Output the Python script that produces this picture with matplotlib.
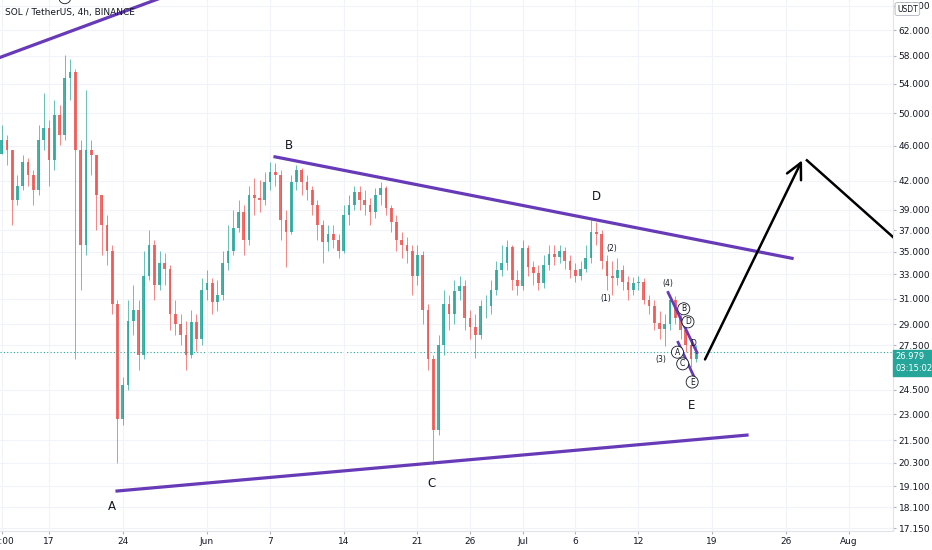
import matplotlib.pyplot as plt
import numpy as np
from matplotlib.ticker import FixedLocator, NullLocator
from matplotlib import transforms

# 12h candles, time in days counted from 1 May (00:00)
first_time = 11.5
candle_step = 0.5
first_open = 45.0

close = [46.7, 45.5, 40.0, 41.5, 44.1, 42.6, 41.0, 46.7, 48.1, 44.3,
         49.8, 47.3, 54.8, 55.6, 45.5, 35.6, 45.5, 44.9, 40.5, 37.5,
         35.1, 30.6, 22.7, 24.8, 29.3, 30.1, 26.8, 32.9, 35.6, 32.1,
         34.0, 33.5, 29.8, 29.0, 28.2, 26.8, 29.2, 27.9, 31.7, 32.3,
         30.7, 31.3, 34.0, 35.1, 37.2, 38.8, 36.1, 40.5, 40.2, 40.0,
         41.9, 43.0, 42.6, 38.0, 36.8, 41.9, 43.2, 41.9, 41.0, 39.5,
         37.5, 35.9, 36.6, 36.1, 35.1, 38.5, 39.5, 40.8, 40.0, 39.5,
         38.8, 40.5, 41.2, 39.2, 37.8, 36.1, 35.6, 35.1, 32.9, 34.7,
         30.1, 26.5, 22.1, 27.5, 30.6, 29.8, 31.6, 32.0, 29.5, 28.8,
         28.2, 30.4, 30.4, 31.7, 33.4, 34.0, 35.4, 32.5, 32.0, 35.3,
         33.6, 33.1, 32.3, 33.8, 34.8, 34.5, 35.1, 34.2, 33.4, 32.9,
         33.5, 34.4, 36.8, 36.6, 34.2, 32.9, 32.7, 33.4, 32.4, 31.7,
         32.3, 32.4, 30.9, 30.4, 29.1, 28.7, 29.0, 30.9, 29.5, 28.6,
         27.5, 26.5, 26.979]
high = [48.5, 47.3, 45.5, 42.6, 44.9, 44.6, 43.2, 48.5, 52.7, 49.1,
        51.8, 51.1, 58.1, 57.6, 56.1, 46.7, 53.1, 46.7, 44.9, 40.5,
        38.5, 35.6, 30.9, 25.3, 30.9, 32.1, 30.9, 35.1, 37.0, 36.1,
        35.1, 34.9, 33.8, 30.9, 29.8, 29.3, 30.1, 29.8, 32.7, 33.4,
        32.7, 32.5, 35.1, 37.5, 39.0, 40.0, 39.5, 41.5, 42.3, 42.1,
        43.0, 44.1, 44.0, 43.2, 39.0, 42.6, 43.8, 43.4, 42.6, 41.5,
        40.0, 38.0, 37.5, 37.5, 36.6, 39.5, 40.5, 41.5, 41.5, 41.0,
        40.2, 41.2, 41.9, 41.5, 39.5, 38.5, 36.8, 36.3, 35.6, 35.6,
        35.1, 30.6, 26.8, 28.2, 31.7, 31.3, 32.5, 32.9, 32.5, 30.1,
        29.8, 30.9, 31.3, 32.5, 34.2, 35.6, 36.1, 35.6, 33.4, 36.1,
        35.6, 34.2, 33.8, 34.7, 35.6, 35.6, 35.6, 35.4, 34.7, 34.0,
        34.2, 35.6, 38.0, 37.8, 37.0, 34.7, 34.2, 34.4, 33.8, 32.9,
        32.8, 32.9, 32.7, 31.3, 30.9, 30.0, 29.8, 31.3, 31.2, 30.1,
        29.0, 27.9, 27.5]
low = [45.5, 43.8, 37.5, 39.5, 41.0, 41.5, 39.5, 40.5, 45.5, 41.5,
       43.2, 46.1, 46.7, 51.8, 26.5, 31.7, 34.7, 42.6, 37.0, 34.7,
       33.8, 29.8, 20.3, 22.4, 24.5, 28.2, 25.8, 26.5, 32.5, 30.9,
       31.7, 32.1, 28.6, 28.2, 27.5, 25.8, 26.6, 27.1, 27.5, 30.9,
       29.8, 30.0, 30.9, 33.4, 34.7, 36.8, 34.7, 35.6, 38.5, 38.8,
       39.5, 41.0, 41.5, 36.1, 33.6, 36.6, 41.0, 40.5, 40.0, 38.5,
       36.1, 34.0, 35.1, 35.3, 34.4, 34.9, 37.5, 39.0, 39.0, 38.5,
       37.5, 38.2, 39.5, 38.5, 36.8, 35.1, 34.4, 34.0, 31.3, 32.1,
       29.0, 25.8, 20.25, 21.8, 26.8, 28.6, 29.0, 30.9, 28.6, 27.9,
       26.6, 27.9, 29.5, 29.8, 31.3, 32.9, 33.4, 31.7, 31.3, 31.7,
       32.9, 32.1, 31.7, 31.9, 33.4, 33.8, 34.0, 33.5, 32.7, 32.4,
       32.5, 33.2, 34.0, 35.6, 33.5, 31.7, 31.3, 32.1, 31.7, 30.9,
       31.3, 31.7, 30.6, 29.8, 28.6, 27.9, 27.4, 28.6, 29.0, 27.9,
       26.98, 26.0, 26.3]

last_price_label = '26.979'
countdown_label = '03:15:02'

tick_days = [11.5, 16, 23, 31, 37, 44, 51, 56, 61, 66, 72, 79, 86, 92]
tick_labels = ['12:00', '17', '24', 'Jun', '7', '14', '21', '26', 'Jul',
               '6', '12', '19', '26', 'Aug']
price_ticks = [17.15, 18.1, 19.1, 20.3, 21.5, 23, 24.5, 27.5, 29, 31,
               33, 35, 37, 39, 42, 46, 50, 54, 58, 62, 66]

# drawings (day, price)
top_line_days, top_line_prices = [10.0, 28.0], [57.0, 68.3]
bd_line_days, bd_line_prices = [37.47, 86.59], [44.7, 34.4]
ae_line_days, ae_line_prices = [22.46, 82.31], [18.87, 21.8]
arrow_start = (78.32, 26.5)
arrow_tip = (87.54, 44.3)
arrow_back_days, arrow_back_prices = [88.0, 97.5], [44.3, 35.2]
wedge_up_days, wedge_up_prices = [74.81, 77.56], [31.5, 26.98]
wedge_lo_days, wedge_lo_prices = [75.76, 77.37], [27.7, 25.2]

big_labels = [('B', 38.8, 46.0), ('D', 67.97, 40.4), ('A', 21.99, 18.15),
              ('C', 52.29, 19.26), ('E', 77.0, 23.55)]
wave_labels = [('(2)', 69.5, 35.3), ('(1)', 68.9, 31.0), ('(4)', 74.8, 32.2),
               ('(3)', 74.1, 26.5), ('D', 77.2, 27.6)]
circled_labels = [('B', 76.3, 30.2), ('D', 76.7, 29.2), ('A', 75.7, 27.0),
                  ('C', 76.2, 26.2), ('E', 77.1, 25.0), ('5', 17.5, 67.4)]

up_col = '#26a69a'
down_col = '#ef5350'
purple = '#673ab7'
text_col = '#131722'

fig = plt.figure(figsize=(9.32, 5.5), dpi=100)
ax = fig.add_axes([0, 19 / 550, 893 / 932, 531 / 550])

times = first_time + candle_step * np.arange(len(close))
opens = [first_open] + close[:-1]
for t, o, h, l, c in zip(times, opens, high, low, close):
    col = up_col if c >= o else down_col
    ax.vlines(t, min(l, o, c), max(h, o, c), color=col, lw=0.7, alpha=0.7, zorder=2)
    ax.bar(t, abs(c - o), bottom=min(o, c), width=0.26, color=col,
           alpha=0.85, zorder=3, linewidth=0)

ax.axhline(float(last_price_label), color=up_col, lw=0.8, ls=(0, (1, 2)), zorder=1)

ax.plot(top_line_days, top_line_prices, color=purple, lw=2.3, zorder=4)
ax.plot(bd_line_days, bd_line_prices, color=purple, lw=2.3, zorder=4)
ax.plot(ae_line_days, ae_line_prices, color=purple, lw=2.3, zorder=4)
ax.plot(wedge_up_days, wedge_up_prices, color=purple, lw=2.0, zorder=4)
ax.plot(wedge_lo_days, wedge_lo_prices, color=purple, lw=2.0, zorder=4)
ax.annotate('', xy=arrow_tip, xytext=arrow_start,
            arrowprops=dict(arrowstyle='->', lw=1.8, color='black',
                            mutation_scale=28, shrinkA=0, shrinkB=0), zorder=5)
ax.plot(arrow_back_days, arrow_back_prices, color='black', lw=1.8, zorder=5)

for s, d, p in big_labels:
    ax.text(d, p, s, fontsize=8.5, color=text_col, ha='center', va='center', zorder=6)
for s, d, p in wave_labels:
    ax.text(d, p, s, fontsize=5.5, color=text_col, ha='center', va='center', zorder=6)
for s, d, p in circled_labels:
    ax.text(d, p, s, fontsize=5.5, color=text_col, ha='center', va='center', zorder=6,
            bbox=dict(boxstyle='circle,pad=0.2', fc='white', ec=text_col, lw=0.6),
            clip_on=False)

ax.set_yscale('log')
ax.set_xlim(11.34, 96.18)
ax.set_ylim(17.02, 67.0)
ax.yaxis.tick_right()
ax.yaxis.set_major_locator(FixedLocator(price_ticks))
ax.yaxis.set_minor_locator(NullLocator())
ax.set_yticklabels(['%.3f' % p if p != 17.15 else '17.150' for p in price_ticks])
ax.set_xticks(tick_days)
ax.set_xticklabels(tick_labels)
ax.tick_params(axis='both', labelsize=6.5, colors=text_col, length=2, pad=2)
ax.tick_params(axis='both', color='#b2b5be')
ax.grid(True, color='#f0f3fa', lw=0.8, zorder=0)
for side in ['top', 'left']:
    ax.spines[side].set_visible(False)
for side in ['right', 'bottom']:
    ax.spines[side].set_color('#e0e3eb')

ax.text(0.006, 0.977, 'SOL / TetherUS, 4h, BINANCE', transform=ax.transAxes,
        fontsize=6.5, color=text_col, ha='left', va='center', zorder=7)

trans = transforms.blended_transform_factory(ax.transAxes, ax.transData)
ax.text(1.003, float(last_price_label), last_price_label + '\n' + countdown_label,
        transform=trans, fontsize=6, color='white', ha='left', va='top',
        linespacing=1.3, clip_on=False, zorder=8,
        bbox=dict(boxstyle='square,pad=0.35', fc=up_col, ec=up_col))
fig.text(897 / 932, 1 - 9 / 550, 'USDT', fontsize=5.5, color=text_col,
         ha='left', va='center', zorder=9,
         bbox=dict(boxstyle='round,pad=0.25', fc='white', ec='#b2b5be', lw=0.6))

fig.savefig('out.png', dpi=100)
